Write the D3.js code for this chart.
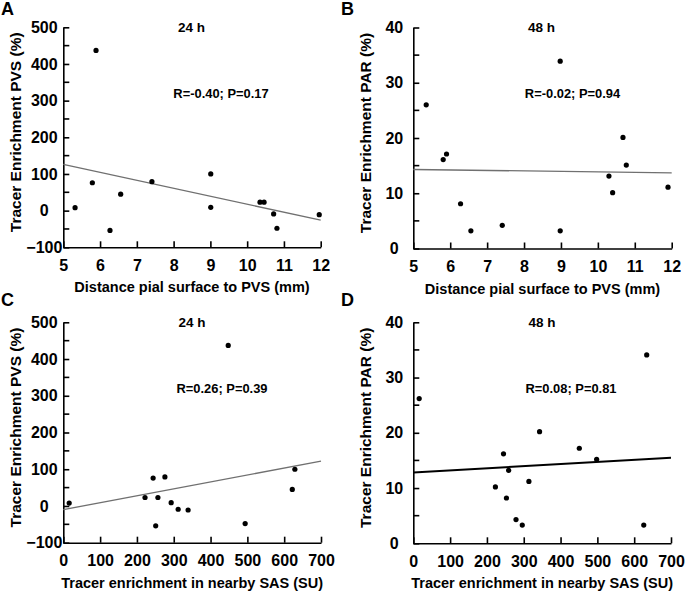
<!DOCTYPE html>
<html>
<head>
<meta charset="utf-8">
<script src="https://cdn.jsdelivr.net/npm/d3@7"></script>
<style>
body{margin:0;background:#fff;}
text{font-family:"Liberation Sans",Arial,sans-serif;font-weight:bold;fill:#000;}
</style>
</head>
<body>
<div id="chart"></div>
<script>
// A: 24 h, distance vs tracer enrichment PVS
var distA = [5.32, 5.79, 5.89, 6.27, 6.56, 7.41, 9.01, 9.01, 10.35, 10.46, 10.72, 10.81, 11.96];
var pvsA  = [8, 76, 437, -54, 45, 79, 100, 9, 23, 23, -9, -48, -11];
var fitA  = [126, -26];

// B: 48 h, distance vs tracer enrichment PAR
var distB = [5.35, 5.81, 5.90, 6.28, 6.56, 7.41, 8.98, 8.98, 10.30, 10.40, 10.68, 10.77, 11.90];
var parB  = [26.0, 16.1, 17.1, 8.1, 3.2, 4.2, 33.9, 3.2, 13.1, 10.1, 20.1, 15.1, 11.1];
var fitB  = [14.3, 13.7];

// C: 24 h, SAS enrichment vs PVS
var sasC = [16, 222, 244, 251, 257, 276, 293, 312, 339, 448, 494, 622, 629];
var pvsC = [8, 23, 76, -54, 23, 79, 9, -9, -11, 437, -48, 45, 100];
var fitC = [-10, 122];

// D: 48 h, SAS enrichment vs PAR
var sasD = [16, 223, 245, 253, 259, 279, 296, 314, 343, 451, 498, 626, 634];
var parD = [26.2, 10.2, 16.2, 8.2, 13.2, 4.3, 3.3, 11.2, 20.2, 17.2, 15.2, 3.3, 34.1];
var fitD = [12.8, 15.5];

var distTicks = [5, 6, 7, 8, 9, 10, 11, 12];
var sasTicks  = [0, 100, 200, 300, 400, 500, 600, 700];
var pvsTicks  = [-100, 0, 100, 200, 300, 400, 500];
var pvsMinor  = [-50, 50, 150, 250, 350, 450];
var parTicks  = [0, 10, 20, 30, 40];
var parMinor  = [5, 15, 25, 35];

var svg = d3.select("#chart")
      .append("svg")
      .attr("width", 685)
      .attr("height", 591);

function drawPanel(p){
  var x = d3.scaleLinear()
        .domain([p.xTicks[0], p.xTicks[p.xTicks.length-1]])
        .range([p.left, p.right]);
  var y = d3.scaleLinear()
        .domain([p.yTicks[0], p.yTicks[p.yTicks.length-1]])
        .range([p.bottom, p.top]);
  var g = svg.append("g");

  // x axis, ticks pointing inward
  var xAxis = g.append("g")
        .attr("transform", "translate(0," + p.bottom + ")")
        .call(d3.axisBottom(x).tickValues(p.xTicks).tickFormat(d3.format("d"))
              .tickSizeInner(-6).tickSizeOuter(0).tickPadding(12));
  xAxis.selectAll("text").attr("font-size", 16).attr("font-family", null);

  var yAxis = g.append("g")
        .attr("transform", "translate(" + p.left + ",0)")
        .call(d3.axisLeft(y).tickValues(p.yTicks).tickFormat(d3.format("d"))
              .tickSizeInner(-6).tickSizeOuter(0).tickPadding(0));
  yAxis.selectAll("text")
        .attr("font-size", 16)
        .attr("font-family", null)
        .attr("text-anchor", "middle")
        .attr("x", -19);

  g.selectAll(".minor")
        .data(p.yMinor)
        .enter()
        .append("line")
        .attr("x1", p.left)
        .attr("x2", p.left + 6)
        .attr("y1", function(d){ return y(d); })
        .attr("y2", function(d){ return y(d); })
        .attr("stroke", "#000");

  g.selectAll(".domain, .tick line")
        .attr("stroke", "#000")
        .attr("stroke-width", 1.6);
  g.selectAll("line").attr("stroke-width", 1.6);

  // regression line
  g.append("line")
        .attr("x1", x.range()[0])
        .attr("x2", x.range()[1])
        .attr("y1", y(p.fit[0]))
        .attr("y2", y(p.fit[1]))
        .attr("stroke", p.fitColor)
        .attr("stroke-width", p.fitWidth);

  g.selectAll("circle")
        .data(p.xs)
        .enter()
        .append("circle")
        .attr("cx", function(d){ return x(d); })
        .attr("cy", function(d, i){ return y(p.ys[i]); })
        .attr("r", 2.6)
        .attr("fill", "#000");

  g.append("text")
        .attr("x", p.letterX)
        .attr("y", p.letterY)
        .attr("font-size", 18)
        .text(p.letter);

  g.append("text")
        .attr("x", p.titleX)
        .attr("y", p.top + 4.5)
        .attr("text-anchor", "middle")
        .attr("font-size", 13.5)
        .text(p.title);

  g.append("text")
        .attr("x", p.statX)
        .attr("y", p.top + 70.5)
        .attr("text-anchor", "middle")
        .attr("font-size", 12.9)
        .text(p.stat);

  g.append("text")
        .attr("x", (p.left + p.right) / 2)
        .attr("y", p.bottom + 45)
        .attr("text-anchor", "middle")
        .attr("font-size", 14.5)
        .text(p.xLabel);

  g.append("text")
        .attr("transform", "translate(" + (p.left - 42) + "," + ((p.top + p.bottom) / 2 - 5) + ") rotate(-90)")
        .attr("text-anchor", "middle")
        .attr("font-size", 15.5)
        .text(p.yLabel);
}

drawPanel({
  xs: distA, ys: pvsA, fit: fitA, xTicks: distTicks, yTicks: pvsTicks, yMinor: pvsMinor,
  left: 63.3, right: 320.7, top: 27.3, bottom: 247.3,
  letter: "A", letterX: 1, letterY: 15, title: "24 h", titleX: 191.5,
  stat: "R=-0.40; P=0.17", statX: 221,
  xLabel: "Distance pial surface to PVS (mm)", yLabel: "Tracer Enrichment PVS (%)",
  fitColor: "#707070", fitWidth: 1.3
});
drawPanel({
  xs: distB, ys: parB, fit: fitB, xTicks: distTicks, yTicks: parTicks, yMinor: parMinor,
  left: 413.3, right: 671.7, top: 27.5, bottom: 248.5,
  letter: "B", letterX: 341, letterY: 15, title: "48 h", titleX: 541.5,
  stat: "R=-0.02; P=0.94", statX: 572.5,
  xLabel: "Distance pial surface to PVS (mm)", yLabel: "Tracer Enrichment PAR (%)",
  fitColor: "#707070", fitWidth: 1.3
});
drawPanel({
  xs: sasC, ys: pvsC, fit: fitC, xTicks: sasTicks, yTicks: pvsTicks, yMinor: pvsMinor,
  left: 63.3, right: 321, top: 322.3, bottom: 542.7,
  letter: "C", letterX: 1, letterY: 306, title: "24 h", titleX: 192,
  stat: "R=0.26; P=0.39", statX: 222,
  xLabel: "Tracer enrichment in nearby SAS (SU)", yLabel: "Tracer Enrichment PVS (%)",
  fitColor: "#707070", fitWidth: 1.3
});
drawPanel({
  xs: sasD, ys: parD, fit: fitD, xTicks: sasTicks, yTicks: parTicks, yMinor: parMinor,
  left: 413.3, right: 671, top: 322.3, bottom: 543.3,
  letter: "D", letterX: 341, letterY: 306, title: "48 h", titleX: 542,
  stat: "R=0.08; P=0.81", statX: 571,
  xLabel: "Tracer enrichment in nearby SAS (SU)", yLabel: "Tracer Enrichment PAR (%)",
  fitColor: "#000", fitWidth: 2
});
</script>
</body>
</html>
